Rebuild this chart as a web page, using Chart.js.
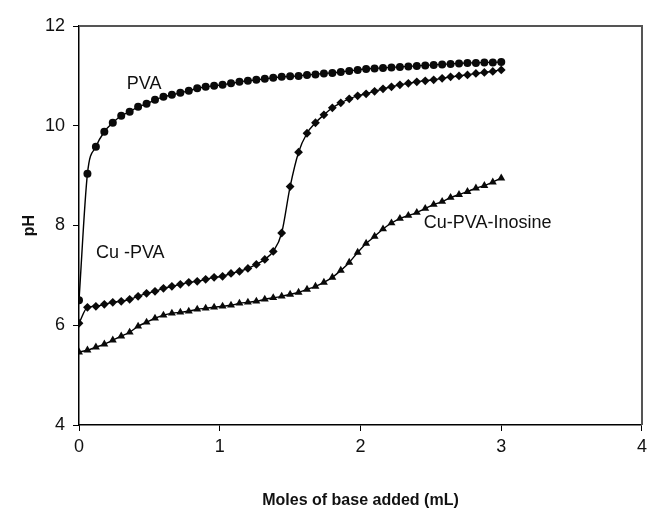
<!DOCTYPE html>
<html lang="en">
<head>
    <meta charset="UTF-8">
    <title>pH titration curves</title>
    <script src="https://cdn.jsdelivr.net/npm/chart.js"></script>
    <style>
        html, body { margin: 0; padding: 0; background: #fff; }
        .container { width: 652px; height: 519px; }
    </style>
</head>
<body>
    <div class="container">
        <canvas id="phChart" width="652" height="519"></canvas>
    </div>

    <script>
        // Volume of base added (mL)
        const baseAdded = [0, 0.06, 0.12, 0.18, 0.24, 0.30, 0.36, 0.42, 0.48, 0.54,
            0.60, 0.66, 0.72, 0.78, 0.84, 0.90, 0.96, 1.02, 1.08, 1.14,
            1.20, 1.26, 1.32, 1.38, 1.44, 1.50, 1.56, 1.62, 1.68, 1.74,
            1.80, 1.86, 1.92, 1.98, 2.04, 2.10, 2.16, 2.22, 2.28, 2.34,
            2.40, 2.46, 2.52, 2.58, 2.64, 2.70, 2.76, 2.82, 2.88, 2.94, 3.00];

        const phPVA = [6.5, 9.04, 9.58, 9.88, 10.06, 10.2, 10.28, 10.38, 10.44, 10.52,
            10.58, 10.62, 10.66, 10.7, 10.75, 10.78, 10.8, 10.82, 10.85, 10.88,
            10.9, 10.92, 10.94, 10.96, 10.98, 10.99, 11.0, 11.02, 11.03, 11.05,
            11.06, 11.08, 11.1, 11.12, 11.14, 11.15, 11.16, 11.17, 11.18, 11.19,
            11.2, 11.21, 11.22, 11.23, 11.24, 11.25, 11.26, 11.26, 11.27, 11.27, 11.28];

        const phCuPVA = [6.04, 6.36, 6.38, 6.42, 6.46, 6.48, 6.52, 6.58, 6.64, 6.68,
            6.74, 6.78, 6.82, 6.86, 6.88, 6.92, 6.96, 6.98, 7.04, 7.08,
            7.14, 7.22, 7.32, 7.48, 7.85, 8.78, 9.47, 9.85, 10.06, 10.22,
            10.36, 10.46, 10.54, 10.6, 10.64, 10.69, 10.74, 10.78, 10.82, 10.85,
            10.88, 10.9, 10.92, 10.95, 10.98, 11.0, 11.02, 11.05, 11.07, 11.09, 11.12];

        const phCuPVAInosine = [5.46, 5.5, 5.56, 5.62, 5.7, 5.78, 5.86, 5.98, 6.06, 6.14,
            6.2, 6.24, 6.26, 6.28, 6.32, 6.34, 6.36, 6.38, 6.4, 6.44,
            6.46, 6.48, 6.52, 6.55, 6.58, 6.62, 6.66, 6.72, 6.78, 6.86,
            6.96, 7.1, 7.26, 7.46, 7.64, 7.78, 7.93, 8.05, 8.14, 8.2,
            8.26, 8.34, 8.42, 8.48, 8.56, 8.62, 8.68, 8.75, 8.8, 8.87, 8.95];

        const xTicks = [0, 1, 2, 3, 4];
        const yTicks = [4, 6, 8, 10, 12];

        const seriesNames = ['PVA', 'Cu -PVA', 'Cu-PVA-Inosine'];

        const fontFamily = '"Liberation Sans", Arial, sans-serif';

        function toPoints(ys) {
            return ys.map((y, i) => ({ x: baseAdded[i], y: y }));
        }

        function makeDataset(label, ys, marker, radius) {
            return {
                label: label,
                data: toPoints(ys),
                borderColor: '#000',
                backgroundColor: '#000',
                borderWidth: 1.4,
                pointStyle: marker,
                pointRadius: radius,
                pointBorderWidth: 0,
                pointBackgroundColor: '#0a0a0a',
                cubicInterpolationMode: 'monotone',
                fill: false
            };
        }

        // box around the plot area (top and right edges)
        const frame = {
            id: 'frame',
            beforeDatasetsDraw(chart) {
                const { ctx, chartArea: a } = chart;
                ctx.save();
                ctx.strokeStyle = '#555';
                ctx.lineWidth = 2;
                ctx.beginPath();
                ctx.moveTo(a.left, a.top);
                ctx.lineTo(a.right, a.top);
                ctx.lineTo(a.right, a.bottom);
                ctx.stroke();
                ctx.restore();
            }
        };

        // curve labels written inside the plot
        const curveLabels = {
            id: 'curveLabels',
            afterDatasetsDraw(chart) {
                const { ctx, scales } = chart;
                const spots = [
                    { text: seriesNames[0], x: 0.34, y: 10.84 },
                    { text: seriesNames[1], x: 0.12, y: 7.44 },
                    { text: seriesNames[2], x: 2.45, y: 8.04 }
                ];
                ctx.save();
                ctx.fillStyle = '#111';
                ctx.font = '18px ' + fontFamily;
                ctx.textAlign = 'left';
                ctx.textBaseline = 'middle';
                spots.forEach(s => {
                    ctx.fillText(s.text, scales.x.getPixelForValue(s.x), scales.y.getPixelForValue(s.y));
                });
                ctx.restore();
            }
        };

        const phChart = new Chart(document.getElementById('phChart'), {
            type: 'line',
            data: {
                datasets: [
                    makeDataset(seriesNames[0], phPVA, 'circle', 4),
                    makeDataset(seriesNames[1], phCuPVA, 'rectRot', 4.4),
                    makeDataset(seriesNames[2], phCuPVAInosine, 'triangle', 4.6)
                ]
            },
            options: {
                responsive: false,
                animation: false,
                layout: { padding: { top: 26, right: 8, left: 0, bottom: 0 } },
                plugins: {
                    legend: { display: false },
                    tooltip: { enabled: false }
                },
                scales: {
                    x: {
                        type: 'linear',
                        min: 0,
                        max: 4,
                        afterBuildTicks: axis => { axis.ticks = xTicks.map(v => ({ value: v })); },
                        afterFit: axis => { axis.height = 94; },
                        grid: { drawOnChartArea: false, drawTicks: true, tickLength: 6, color: '#000' },
                        border: { color: '#000', width: 1.5 },
                        ticks: {
                            color: '#111',
                            padding: 5,
                            maxRotation: 0,
                            font: { family: fontFamily, size: 18 }
                        },
                        title: {
                            display: true,
                            text: 'Moles of base added (mL)',
                            color: '#111',
                            padding: { top: 0, bottom: 9 },
                            font: { family: fontFamily, size: 16, weight: 'bold' }
                        }
                    },
                    y: {
                        type: 'linear',
                        min: 4,
                        max: 12,
                        afterBuildTicks: axis => { axis.ticks = yTicks.map(v => ({ value: v })); },
                        afterFit: axis => { axis.width = 79; },
                        grid: { drawOnChartArea: false, drawTicks: true, tickLength: 6, color: '#000' },
                        border: { color: '#000', width: 1.5 },
                        ticks: {
                            color: '#111',
                            padding: 8,
                            font: { family: fontFamily, size: 18 }
                        },
                        title: {
                            display: true,
                            text: 'pH',
                            color: '#111',
                            padding: { top: 20, bottom: 0 },
                            font: { family: fontFamily, size: 16, weight: 'bold' }
                        }
                    }
                }
            },
            plugins: [frame, curveLabels]
        });
    </script>
</body>
</html>
